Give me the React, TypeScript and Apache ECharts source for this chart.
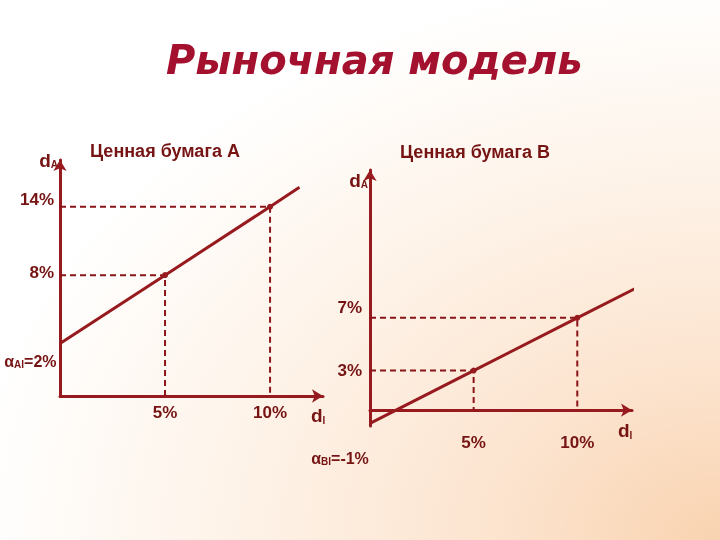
import React, { useEffect, useRef } from 'react';
import * as echarts from 'echarts';

// ---- data ----
const MAIN_TITLE = 'Рыночная модель';
const PANEL_TITLES = ['Ценная бумага А', 'Ценная бумага В'];

// security A: d_A = 2% + 1.2 * d_I
const lineA: [number, number][] = [[0, 2], [5, 8], [10, 14], [11.4, 15.7]];
const markedA: [number, number][] = [[5, 8], [10, 14]];
const alphaA = { name: 'AI', value: '2%' };

// security B: d_A = -1% + 0.8 * d_I
const lineB: [number, number][] = [[0, -1], [5, 3], [10, 7], [12.9, 9.3]];
const markedB: [number, number][] = [[5, 3], [10, 7]];
const alphaB = { name: 'BI', value: '-1%' };

const xTicks = [5, 10];
const yTicksA = [8, 14];
const yTicksB = [3, 7];

// axis ranges
const xRangeA = [0, 12.52];
const yRangeA = [-2.6, 18.1];
const xRangeB = [0, 12.64];
const yRangeB = [-1.2, 18.2];

// ---- style ----
const FONT = 'Arial, "Liberation Sans", sans-serif';
const TITLE_FONT = '"DejaVu Sans", Verdana, sans-serif';
const RED = '#961a1e';
const TEXT = '#761313';
const TITLE_RED = '#a3112f';

const axisLineStyle = {
  show: true,
  symbol: ['none', 'arrow'],
  symbolSize: [10, 11],
  lineStyle: { color: RED, width: 3 },
};

const labelBase = {
  color: TEXT,
  fontSize: 17,
  fontWeight: 'bold',
  fontFamily: FONT,
};

const subRich = {
  d: { ...labelBase, fontSize: 19, verticalAlign: 'bottom' },
  s: { ...labelBase, fontSize: 10, verticalAlign: 'bottom' },
};

const alphaRich = {
  a: { ...labelBase, fontSize: 16, verticalAlign: 'bottom' },
  s: { ...labelBase, fontSize: 10, verticalAlign: 'bottom' },
};

function xAxis(gridIndex: number, range: number[], onZero: boolean, gap: number, pad: number) {
  return {
    gridIndex,
    type: 'value',
    min: range[0],
    max: range[1],
    axisLine: { ...axisLineStyle, onZero },
    axisTick: { show: false },
    splitLine: { show: false },
    axisLabel: {
      ...labelBase,
      customValues: xTicks,
      formatter: (v: number) => `${v}%`,
      margin: 8,
    },
    name: '{d|d}{s|I}',
    nameLocation: 'end',
    nameGap: gap,
    nameTextStyle: {
      rich: subRich,
      align: 'left',
      verticalAlign: 'top',
      padding: [pad, 0, 0, 0],
    },
  };
}

function yAxis(gridIndex: number, range: number[], ticks: number[], shifts: number[], gap: number, margin: number) {
  return {
    gridIndex,
    type: 'value',
    min: range[0],
    max: range[1],
    axisLine: { ...axisLineStyle, onZero: true },
    axisTick: { show: false },
    splitLine: { show: false },
    axisLabel: {
      ...labelBase,
      customValues: ticks,
      margin,
      formatter: (v: number) => `{t${ticks.indexOf(v)}|${v}%}`,
      rich: Object.fromEntries(
        ticks.map((_, i) => [`t${i}`, { ...labelBase, padding: [0, 0, shifts[i], 0] }])
      ),
    },
    name: '{d|d}{s|A}',
    nameLocation: 'end',
    nameGap: gap,
    nameTextStyle: {
      rich: subRich,
      align: 'right',
      verticalAlign: 'middle',
      padding: [0, 2, 0, 0],
    },
  };
}

function mainLine(
  idx: number,
  pts: [number, number][],
  marked: [number, number][],
  alpha: { name: string; value: string },
  labelPos: string,
  offset: number[]
) {
  return {
    type: 'line',
    xAxisIndex: idx,
    yAxisIndex: idx,
    clip: false,
    z: 5,
    lineStyle: { color: RED, width: 3 },
    itemStyle: { color: RED },
    data: pts.map(([x, y], i) => {
      const isMarked = marked.some(([mx, my]) => mx === x && my === y);
      const item: any = {
        value: [x, y],
        symbol: isMarked || i === 0 ? 'circle' : 'none',
        symbolSize: isMarked ? 6 : 1,
      };
      if (i === 0) {
        item.label = {
          show: true,
          position: labelPos,
          offset,
          formatter: `{a|α}{s|${alpha.name}}{a|=${alpha.value}}`,
          rich: alphaRich,
        };
      }
      return item;
    }),
  };
}

function dashedLines(idx: number, marked: [number, number][], base: number) {
  return marked.map(([x, y]) => ({
    type: 'line',
    xAxisIndex: idx,
    yAxisIndex: idx,
    symbol: 'none',
    silent: true,
    z: 3,
    lineStyle: { color: '#8a1518', width: 2, type: [6, 4] },
    data: [
      [0, y],
      [x, y],
      [x, base],
    ],
  }));
}

const option: any = {
  animation: false,
  backgroundColor: {
    type: 'radial',
    x: 1,
    y: 1,
    r: 1.05,
    colorStops: [
      { offset: 0, color: '#f9d3b0' },
      { offset: 0.3, color: '#fce4cf' },
      { offset: 0.7, color: '#fef5ec' },
      { offset: 1, color: '#ffffff' },
    ],
  },
  title: [
    {
      text: MAIN_TITLE,
      left: 166,
      top: 40,
      padding: 0,
      textStyle: {
        color: TITLE_RED,
        fontSize: 40,
        fontWeight: 'bold',
        fontStyle: 'italic',
        fontFamily: TITLE_FONT,
      },
    },
    {
      text: PANEL_TITLES[0],
      left: 90,
      top: 142,
      padding: 0,
      textStyle: { ...labelBase, fontSize: 18 },
    },
    {
      text: PANEL_TITLES[1],
      left: 400,
      top: 143,
      padding: 0,
      textStyle: { ...labelBase, fontSize: 18 },
    },
  ],
  grid: [
    { left: 60, top: 160, width: 263, height: 236 },
    { left: 370, top: 170, width: 262, height: 256 },
  ],
  xAxis: [xAxis(0, xRangeA, false, -12, 10), xAxis(1, xRangeB, true, -14, 11)],
  yAxis: [
    yAxis(0, yRangeA, yTicksA, [6, 14], 0, 6),
    yAxis(1, yRangeB, yTicksB, [0, 20], -10, 8),
  ],
  series: [
    ...dashedLines(0, markedA, yRangeA[0]),
    ...dashedLines(1, markedB, 0),
    mainLine(0, lineA, markedA, alphaA, 'left', [2, 18]),
    mainLine(1, lineB, markedB, alphaB, 'bottom', [-30, 22]),
  ],
};

export default function App() {
  const ref = useRef<HTMLDivElement>(null);
  useEffect(() => {
    const chart = echarts.init(ref.current!, null, { renderer: 'svg' });
    chart.setOption(option);
    return () => chart.dispose();
  }, []);
  return (
    <div
      ref={ref}
      style={{ position: 'fixed', left: 0, top: 0, width: 720, height: 540 }}
    />
  );
}
